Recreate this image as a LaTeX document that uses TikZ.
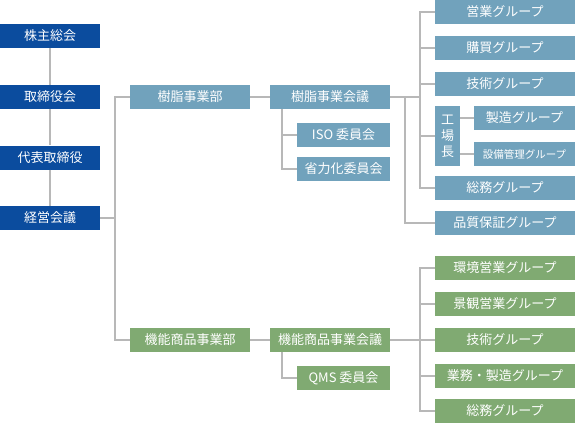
\documentclass[tikz,border=0pt]{standalone}
\usepackage{fontspec}
\newfontfamily\jp{Noto Sans CJK JP}
\definecolor{topblue}{HTML}{0B4C9E}
\definecolor{resblue}{HTML}{71A2BC}
\definecolor{fungreen}{HTML}{80AA72}
\definecolor{linegray}{HTML}{B8B8B8}
\begin{document}
\begin{tikzpicture}[x=1pt,y=-1pt,
  box/.style={minimum height=24pt, inner sep=0pt, text=white, font=\jp\fontsize{13}{15}\selectfont},
  topbox/.style={box, fill=topblue, minimum width=100pt},
  rbox/.style={box, fill=resblue},
  gbox/.style={box, fill=fungreen},
  conn/.style={draw=linegray, line width=1.1pt},
  thick conn/.style={draw=linegray, line width=1.8pt}]
\useasboundingbox (0,0) rectangle (575,424);
% top column
\node[topbox] (a1) at (50,36) {株主総会};
\node[topbox] (a2) at (50,97) {取締役会};
\node[topbox] (a3) at (50,157.5) {代表取締役};
\node[topbox] (a4) at (50,218) {経営会議};
% divisions
\node[rbox, minimum width=120pt] (b1) at (190,97) {樹脂事業部};
\node[gbox, minimum width=120pt] (b2) at (190,340) {機能商品事業部};
% councils
\node[rbox, minimum width=120pt] (c1) at (330,97) {樹脂事業会議};
\node[rbox, minimum width=93pt] (c2) at (343.5,135) {ISO 委員会};
\node[rbox, minimum width=93pt] (c3) at (343.5,169) {省力化委員会};
\node[gbox, minimum width=120pt] (d1) at (330,340) {機能商品事業会議};
\node[gbox, minimum width=93pt] (d2) at (343.5,378) {QMS 委員会};
% resin groups
\node[rbox, minimum width=140pt] (e1) at (505,12) {営業グループ};
\node[rbox, minimum width=140pt] (e2) at (505,48) {購買グループ};
\node[rbox, minimum width=140pt] (e3) at (505,84) {技術グループ};
\node[rbox, minimum width=25pt, minimum height=60pt, align=center, font=\jp\fontsize{13}{16}\selectfont] (k) at (447.5,136) {工\\場\\長};
\node[rbox, minimum width=101pt] (e4) at (524.5,118) {製造グループ};
\node[rbox, minimum width=101pt, font=\jp\fontsize{10.5}{12}\selectfont] (e5) at (524.5,154) {設備管理グループ};
\node[rbox, minimum width=140pt] (e6) at (505,188) {総務グループ};
\node[rbox, minimum width=140pt] (e7) at (505,223) {品質保証グループ};
% functional groups
\node[gbox, minimum width=140pt] (f1) at (505,268) {環境営業グループ};
\node[gbox, minimum width=140pt] (f2) at (505,304) {景観営業グループ};
\node[gbox, minimum width=140pt] (f3) at (505,340) {技術グループ};
\node[gbox, minimum width=140pt] (f4) at (505,376) {業務・製造グループ};
\node[gbox, minimum width=140pt] (f5) at (505,411) {総務グループ};
% coordinates
\coordinate (j1) at (115,218);
\coordinate (k1) at (282,109);
\coordinate (k2) at (282,352);
\coordinate (r1) at (405,97);
\coordinate (r2) at (420,97);
\coordinate (r3) at (420,340);
% connectors
\draw[thick conn] (a1) -- (a2) (a2) -- (a3) (a3) -- (a4);
\draw[conn] (a4.east) -- (j1);
\draw[conn] (b1.west) -| (j1) |- (b2.west);
\draw[conn] (b1) -- (c1);
\draw[conn] (b2) -- (d1);
\draw[conn] (c2.west) -| (k1);
\draw[conn] (k1) |- (c3.west);
\draw[conn] (d2.west) -| (k2);
\draw[conn] (c1.east) -- (r2);
\draw[conn] (r1) |- (e7.west);
\draw[conn] (e1.west) -| (r2) |- (e6.west);
\draw[conn] (e2.west) -- (e2.west -| r2);
\draw[conn] (e3.west) -- (e3.west -| r2);
\draw[conn] (k.west) -- (k.west -| r2);
\draw[conn] (e4.west) -- (e4.west -| k.east);
\draw[conn] (e5.west) -- (e5.west -| k.east);
\draw[conn] (d1.east) -- (r3);
\draw[conn] (f1.west) -| (r3) |- (f5.west);
\draw[conn] (f2.west) -- (f2.west -| r3);
\draw[conn] (f3.west) -- (r3);
\draw[conn] (f4.west) -- (f4.west -| r3);
\end{tikzpicture}
\end{document}
